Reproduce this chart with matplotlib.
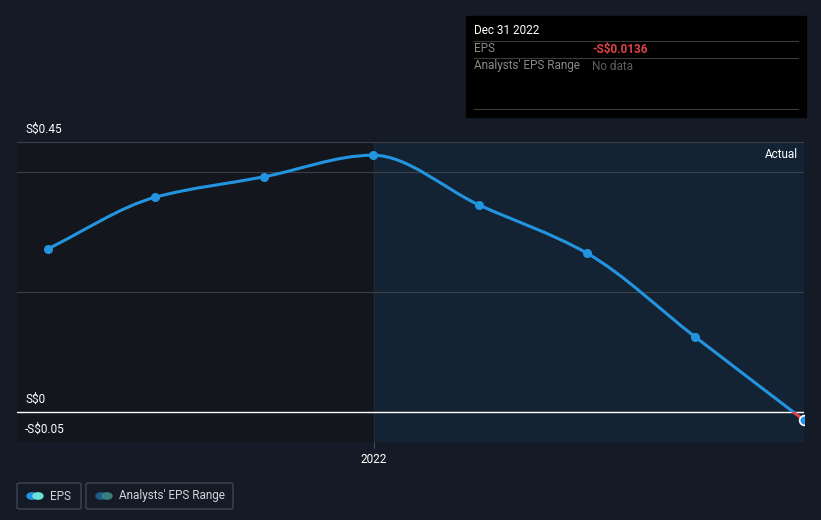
import numpy as np
import matplotlib
matplotlib.use("Agg")
import matplotlib.pyplot as plt
import matplotlib.dates as mdates
from matplotlib.path import Path
from matplotlib.patches import PathPatch, Rectangle, FancyBboxPatch, Circle
from datetime import datetime

plt.rcParams['font.family'] = ['Roboto', 'DejaVu Sans']

# data
dates = ["2021-03-31", "2021-06-30", "2021-09-30", "2021-12-31",
         "2022-03-31", "2022-06-30", "2022-09-30", "2022-12-31"]
eps = [0.272, 0.358, 0.392, 0.428, 0.345, 0.265, 0.125, -0.0136]
yticks = [-0.05, 0, 0.2, 0.4, 0.45]
ytick_labels = {0.45: "S$0.45", 0: "S$0", -0.05: "-S$0.05"}

BG = "#151b26"
BLUE = "#2394df"

x = mdates.date2num([datetime.strptime(d, "%Y-%m-%d") for d in dates])
y = np.array(eps)

fig = plt.figure(figsize=(8.21, 5.2), dpi=100, facecolor=BG)
ax = fig.add_axes([17 / 821, 1 - 442 / 520, (804 - 17) / 821, 300 / 520])
ax.set_facecolor(BG)
for s in ax.spines.values():
    s.set_visible(False)

x_left = x[0] - 0.287 * (x[1] - x[0])
x_split = mdates.date2num(datetime(2022, 1, 1))
ax.set_xlim(x_left, x[-1])
ax.set_ylim(-0.05, 0.45)

# past / forecast shading
ax.axvspan(x_left, x_split, color="#13161d", zorder=0)
ax.axvspan(x_split, x[-1], color="#142333", zorder=0)
ax.axvline(x_split, color="#1e2a38", lw=0.8, zorder=1)

for v in yticks:
    if v == 0:
        ax.axhline(v, color="white", lw=1, zorder=2)
    else:
        ax.axhline(v, color="#3a3f48", lw=0.8, zorder=1)

# smooth monotone curve through the points
dx = np.diff(x)
sl = np.diff(y) / dx
m = np.zeros_like(y)
m[0], m[-1] = sl[0], sl[-1]
for i in range(1, len(y) - 1):
    if sl[i - 1] * sl[i] <= 0:
        m[i] = 0
    else:
        m[i] = 3 * (dx[i - 1] + dx[i]) / ((2 * dx[i] + dx[i - 1]) / sl[i - 1] + (dx[i] + 2 * dx[i - 1]) / sl[i])
verts = [(x[0], y[0])]
codes = [Path.MOVETO]
for i in range(len(x) - 1):
    h = dx[i] / 3
    verts += [(x[i] + h, y[i] + m[i] * h), (x[i + 1] - h, y[i + 1] - m[i + 1] * h), (x[i + 1], y[i + 1])]
    codes += [Path.CURVE4] * 3
path = Path(verts, codes)

for col, (lo, hi) in [(BLUE, (0, 1)), ("#d9434f", (-1, 0))]:
    pp = PathPatch(path, fill=False, edgecolor=col, lw=2.2, zorder=3, capstyle="round")
    ax.add_patch(pp)
    clip = Rectangle((x_left, lo), x[-1] - x_left, hi - lo, transform=ax.transData)
    pp.set_clip_path(clip)

ax.plot(x[:-1], y[:-1], "o", color=BLUE, ms=5.5, zorder=4)
ax.plot(x[-1], y[-1], "o", color="#2394df", mec="white", mew=1.2, ms=7, zorder=5)

ax.set_yticks([])
ax.set_xticks([x_split])
ax.set_xticklabels(["2022"], color="white", fontsize=8.5)
ax.tick_params(axis="x", length=4, color="#4a505a", pad=4)

for v, lab in ytick_labels.items():
    ax.text(x_left + 8 / 787 * (x[-1] - x_left), v + 6 / 600, lab, color="white",
            fontsize=8.5, va="bottom", ha="left")

ax.text(0.992, 0.96, "Actual", transform=ax.transAxes, color="white", fontsize=8.5, ha="right", va="center")

# tooltip box
fig.patches.append(Rectangle((466 / 821, 1 - 117 / 520), 340 / 821, 101 / 520,
                             transform=fig.transFigure, color="black", zorder=1))
for yy in [41, 58, 109]:
    fig.add_artist(plt.Line2D([474 / 821, 798 / 821], [1 - yy / 520] * 2, color="#3a3a3a", lw=0.8))
fig.text(474 / 821, 1 - 31 / 520, "Dec 31 2022", color="white", fontsize=8.5, va="center")
fig.text(474 / 821, 1 - 49 / 520, "EPS", color="#8a8a8a", fontsize=8.5, va="center")
fig.text(592 / 821, 1 - 49 / 520, "-S$0.0136", color="#e0424a", fontsize=8.5, va="center", fontweight="bold")
fig.text(474 / 821, 1 - 66 / 520, "Analysts' EPS Range", color="#8a8a8a", fontsize=8.5, va="center")
fig.text(592 / 821, 1 - 66 / 520, "No data", color="#5e5e5e", fontsize=8.5, va="center")

# legend
def legend_item(x0, w, c1, c2, label):
    fig.patches.append(FancyBboxPatch((x0 / 821, 1 - 509 / 520), w / 821, 26 / 520,
                                      boxstyle="round,pad=0,rounding_size=0.003",
                                      transform=fig.transFigure, facecolor="none",
                                      edgecolor="#3f4550", lw=1))
    cy = 1 - 496 / 520
    fig.patches.append(Circle(((x0 + 15) / 821, cy), 5 / 821, transform=fig.transFigure, color=c1))
    fig.patches.append(Circle(((x0 + 21) / 821, cy), 5 / 821, transform=fig.transFigure, color=c2))
    fig.text((x0 + 33) / 821, cy, label, color="#d0d3d8", fontsize=8.5, va="center")

legend_item(17, 64, "#2394df", "#6fe0d6", "EPS")
legend_item(86, 147, "#1f5a8a", "#3a7f80", "Analysts' EPS Range")

fig.savefig("out.png", dpi=100, facecolor=BG)
